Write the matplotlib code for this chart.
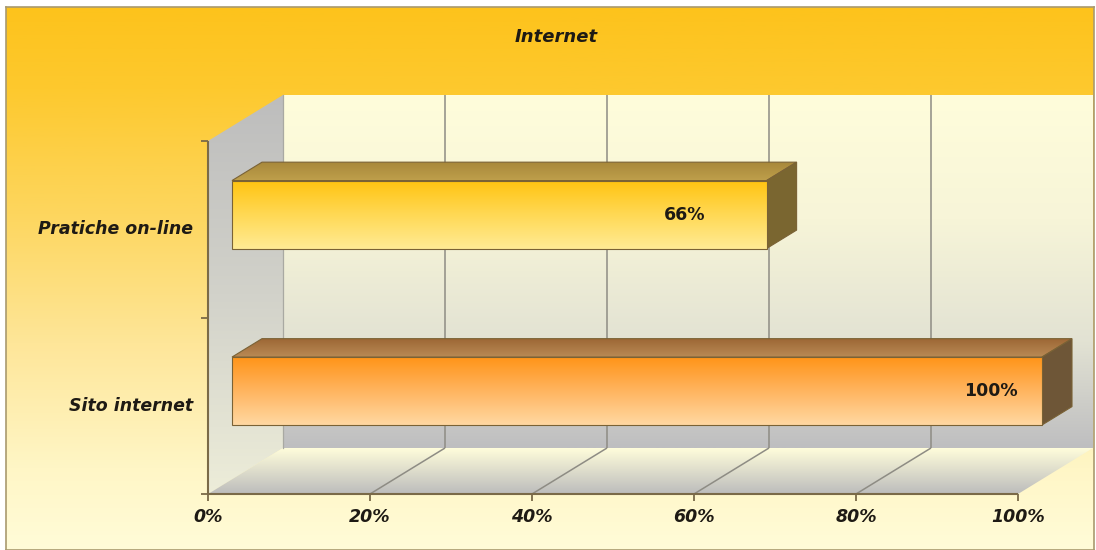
import numpy as np
import matplotlib
matplotlib.use("Agg")
import matplotlib.pyplot as plt
import matplotlib.transforms as mtransforms
from matplotlib.patches import Polygon
from matplotlib.colors import LinearSegmentedColormap
from matplotlib import markers

# ---- data ----
categories = ["Sito internet", "Pratiche on-line"]
values = [100, 66]
value_labels = ["100%", "66%"]
x_ticks = [0, 20, 40, 60, 80, 100]
x_tick_labels = ["0%", "20%", "40%", "60%", "80%", "100%"]
title = "Internet"

# ---- styling ----
W, H, DPI = 1096, 550, 100
FRONT_X0, FRONT_X1 = 208, 1018      # pixel span of the front x axis
FRONT_YB, FRONT_YT = 494, 141       # pixel rows of the front value plane
DEPTH_PX = (75, 46)                 # screen offset of the full 3-D depth
BAR_DEPTH = (0.32, 0.72)            # bar front/back as fraction of depth
BAR_HEIGHT = 0.385                  # in category units
LABEL_INSET_PX = [24, 61]           # distance of value label from bar end

front_cols = [("#FF9418", "#FFB560", "#FFD8A2"), ("#FFC412", "#FFD955", "#FFEB95")]
top_cols = [("#9C6634", "#B98A55"), ("#A8883A", "#BFA04C")]
side_cols = ["#6E5637", "#7A6630"]
edge_col = "#7A6235"
text_col = "#1E1A14"

fig = plt.figure(figsize=(W / DPI, H / DPI), dpi=DPI)
fig.patch.set_facecolor("white")

# chart area with its golden vertical gradient
bg = fig.add_axes([6 / W, 0, (1094 - 6) / W, (H - 7) / H], zorder=0)
bg_cmap = LinearSegmentedColormap.from_list(
    "bg", [(0.0, "#FDC31C"), (0.15, "#FDC92E"), (0.38, "#FDD65E"),
           (0.62, "#FEE699"), (0.85, "#FFF6C6"), (1.0, "#FFFCD8")])
bg.imshow(np.linspace(0, 1, 256)[:, None], cmap=bg_cmap, aspect="auto",
          extent=(0, 1, 0, 1), origin="upper", interpolation="bilinear")
bg.set_xticks([])
bg.set_yticks([])
for s in bg.spines.values():
    s.set_color("#A99A6E")
    s.set_linewidth(1.2)

ax = fig.add_axes([0, 0, 1, 1], zorder=1)
ax.set_axis_off()
ax.patch.set_alpha(0)

sx = (FRONT_X1 - FRONT_X0) / 100.0
sy = (FRONT_YB - FRONT_YT) / 2.0
xlim = (-FRONT_X0 / sx, (W - FRONT_X0) / sx)
ylim = (-0.5 - (H - FRONT_YB) / sy, -0.5 + FRONT_YB / sy)
DX, DY = DEPTH_PX[0] / sx, DEPTH_PX[1] / sy


def proj(x, y, d):
    """Oblique projection of (value, category, depth) into data space."""
    return (x + d * DX, y + d * DY)


def grad_poly(verts, stops, z, edge="none", lw=0.8):
    verts = np.asarray(verts, dtype=float)
    x0, y0 = verts.min(0)
    x1, y1 = verts.max(0)
    cmap = LinearSegmentedColormap.from_list("g", stops)
    poly = Polygon(verts, closed=True, facecolor="none", edgecolor=edge,
                   lw=lw, zorder=z + 0.01, joinstyle="miter")
    ax.add_patch(poly)
    im = ax.imshow(np.linspace(0, 1, 256)[:, None], cmap=cmap, vmin=0, vmax=1,
                   extent=(x0, x1, y0, y1), origin="upper", aspect="auto",
                   interpolation="bilinear", zorder=z)
    im.set_clip_path(poly)
    return poly


lo, hi = -0.5, len(categories) - 0.5
xmax = x_ticks[-1]

# walls and floor
grad_poly([proj(0, lo, 1), proj(xmax, lo, 1), proj(xmax, hi, 1), proj(0, hi, 1)],
          [(0, "#FFFDDB"), (0.35, "#F7F5D8"), (0.7, "#E2E2D3"), (1, "#BEBEC0")], z=2)
grad_poly([proj(0, lo, 0), proj(0, lo, 1), proj(0, hi, 1), proj(0, hi, 0)],
          [(0, "#BDBDBD"), (0.5, "#D2D2CA"), (1, "#EDEDD9")], z=2)
grad_poly([proj(0, lo, 0), proj(xmax, lo, 0), proj(xmax, lo, 1), proj(0, lo, 1)],
          [(0, "#FFFDDB"), (1, "#BCBCBC")], z=2)

# gridlines on the back wall and floor
grid_kw = dict(color="#8E8C84", lw=1.1, zorder=3, solid_capstyle="butt")
for t in x_ticks:
    if 0 < t < xmax:
        ax.plot(*zip(proj(t, lo, 1), proj(t, hi, 1)), **grid_kw)
        ax.plot(*zip(proj(t, lo, 0), proj(t, lo, 1)), **grid_kw)
ax.plot(*zip(proj(0, lo, 1), proj(0, hi, 1)), color="#A9A9A2", lw=0.9, zorder=3)

# axis lines with tick marks
axis_kw = dict(color="#7A6A48", lw=1.5, zorder=6, solid_capstyle="butt")
ax.plot(*zip(proj(0, lo, 0), proj(0, hi, 0)), **axis_kw)
ax.plot(*zip(proj(0, lo, 0), proj(xmax, lo, 0)), **axis_kw)
ax.plot(np.zeros(len(categories) + 1), np.arange(len(categories) + 1) - 0.5,
        ls="none", marker=markers.TICKLEFT, ms=5, mew=1.3, color="#7A6A48", zorder=6)
ax.plot(x_ticks, np.full(len(x_ticks), lo), ls="none", marker=markers.TICKDOWN,
        ms=5, mew=1.3, color="#7A6A48", zorder=6)

# bars
d0, d1 = BAR_DEPTH
for i, v in enumerate(values):
    yb, yt = i - BAR_HEIGHT / 2, i + BAR_HEIGHT / 2
    z = 10 + (len(values) - i) * 3
    grad_poly([proj(0, yt, d0), proj(v, yt, d0), proj(v, yt, d1), proj(0, yt, d1)],
              [(0, top_cols[i][0]), (1, top_cols[i][1])], z=z, edge=edge_col)
    side = Polygon([proj(v, yb, d0), proj(v, yb, d1), proj(v, yt, d1), proj(v, yt, d0)],
                   closed=True, facecolor=side_cols[i], edgecolor=edge_col,
                   lw=0.8, zorder=z + 0.5)
    ax.add_patch(side)
    c0, c1, c2 = front_cols[i]
    grad_poly([proj(0, yb, d0), proj(v, yb, d0), proj(v, yt, d0), proj(0, yt, d0)],
              [(0, c0), (0.5, c1), (1, c2)], z=z + 1, edge=edge_col)
    tr = mtransforms.offset_copy(ax.transData, fig=fig, x=-LABEL_INSET_PX[i],
                                 y=0, units="dots")
    ax.text(*proj(v, i, d0), value_labels[i], transform=tr, ha="right",
            va="center", fontsize=12.5, fontweight="bold", color=text_col,
            family="DejaVu Sans", zorder=z + 2)

# category labels
cat_tr = mtransforms.offset_copy(ax.transData, fig=fig, x=-15, y=0, units="dots")
for i, c in enumerate(categories):
    ax.text(0, i, c, transform=cat_tr, ha="right", va="center", fontsize=12.5,
            fontweight="bold", fontstyle="italic", family="DejaVu Sans",
            color=text_col, zorder=20)

# value axis tick labels
tick_tr = mtransforms.offset_copy(ax.transData, fig=fig, x=0, y=-23, units="dots")
for t, lab in zip(x_ticks, x_tick_labels):
    ax.text(t, lo, lab, transform=tick_tr, ha="center", va="center",
            fontsize=12.5, fontweight="bold", fontstyle="italic",
            family="DejaVu Sans", color=text_col, zorder=20)

ax.set_xlim(*xlim)
ax.set_ylim(*ylim)

fig.text(556 / W, 1 - 37 / H, title, ha="center", va="center", fontsize=13,
         fontweight="bold", fontstyle="italic", family="DejaVu Sans",
         color=text_col, zorder=30)

fig.savefig("out.png", dpi=DPI, facecolor=fig.get_facecolor())
